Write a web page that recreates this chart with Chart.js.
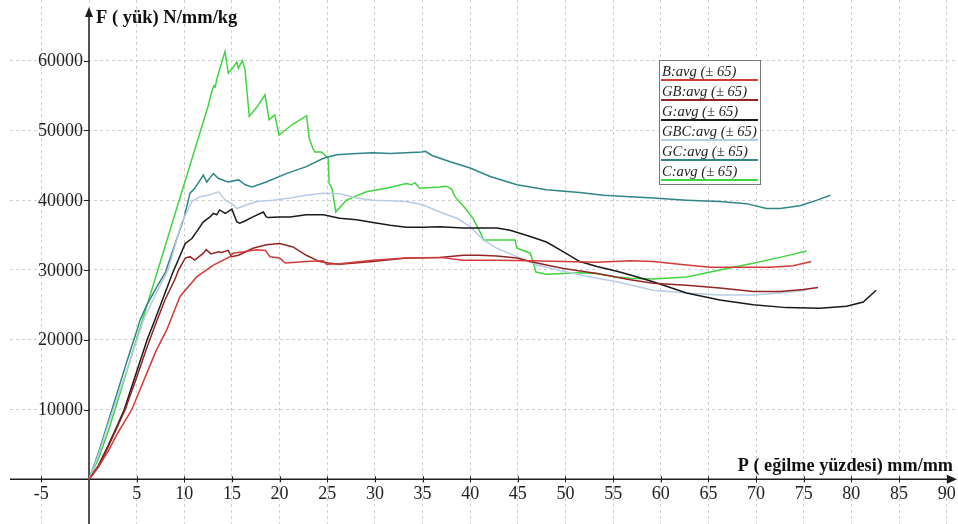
<!DOCTYPE html>
<html>
<head>
<meta charset="utf-8">
<script src="https://cdn.jsdelivr.net/npm/chart.js@4.4.0/dist/chart.umd.min.js"></script>
<style>
  html, body { margin: 0; padding: 0; background: #fff; }
</style>
</head>
<body>
<canvas id="chart" width="958" height="524"></canvas>
<script>
// axis ticks
const xTicks = [-5, 0, 5, 10, 15, 20, 25, 30, 35, 40, 45, 50, 55, 60, 65, 70, 75, 80, 85, 90];
const yTicks = [10000, 20000, 30000, 40000, 50000, 60000];

const xTitle = "P ( eğilme yüzdesi) mm/mm";
const yTitle = "F ( yük) N/mm/kg";

const seriesNames = ["B:avg (± 65)", "GB:avg (± 65)", "G:avg (± 65)", "GBC:avg (± 65)", "GC:avg (± 65)", "C:avg (± 65)"];
const seriesColors = ["#d43a3a", "#952525", "#1a1a1a", "#b7cde6", "#2f8587", "#3ed63e"];

// B
const bX = [0, 1, 2, 3, 4.5, 6, 7, 8.15, 9.55, 11.3, 13.05, 14.8, 15.1, 16.2, 17.6, 18.5, 19.0, 20.0, 20.6, 22.8, 24.6, 24.9, 26.3, 29.8, 33.3, 36.8, 39.3, 42.8, 46.3, 49.8, 53.3, 56.8, 59.2, 62.7, 65.2, 68.0, 71.5, 73.9, 75.8];
const bY = [0, 1800, 4000, 6600, 10000, 15000, 18300, 21400, 26200, 29000, 30700, 31900, 32400, 32600, 32900, 32800, 31900, 31700, 31000, 31200, 31300, 30800, 30900, 31400, 31700, 31800, 31400, 31400, 31300, 31200, 31100, 31300, 31200, 30700, 30400, 30400, 30400, 30600, 31200];

// GB
const gbX = [0, 1, 2, 3, 3.8, 5, 6, 7, 8, 9, 9.4, 10.1, 10.6, 11.1, 12.0, 12.3, 12.8, 13.6, 13.9, 14.6, 14.95, 15.7, 17.2, 18.6, 20.0, 21.4, 22.8, 24.2, 25.1, 26.3, 29.8, 33.3, 36.8, 39.3, 41.0, 42.8, 44.9, 46.3, 48.0, 49.8, 53.3, 56.8, 59.2, 62.7, 66.2, 69.7, 72.5, 75.0, 76.5];
const gbY = [0, 1800, 4600, 7600, 10000, 14600, 18600, 22300, 25800, 28600, 30000, 31700, 31900, 31400, 32400, 32900, 32300, 32600, 32500, 32800, 31900, 32100, 33100, 33600, 33800, 33300, 32100, 31200, 31000, 30800, 31200, 31700, 31800, 32100, 32100, 32000, 31700, 31200, 30700, 30200, 29500, 28600, 28100, 27800, 27400, 26900, 26900, 27200, 27500];

// G
const gX = [0, 1, 2, 3, 3.7, 5, 6.1, 6.9, 8.7, 10.1, 10.8, 11.3, 12.0, 12.7, 13.05, 13.4, 13.7, 14.3, 15.0, 15.5, 15.8, 16.2, 17.2, 18.3, 18.6, 18.8, 20.0, 21.1, 22.8, 24.6, 26.3, 28.1, 29.8, 31.6, 33.3, 35.1, 36.8, 39.3, 42.8, 44.2, 46.3, 48.0, 49.8, 51.5, 53.3, 55.4, 57.0, 59.2, 62.7, 66.2, 69.7, 73.2, 76.7, 79.5, 81.25, 82.6];
const gY = [0, 2000, 4800, 7800, 10000, 15400, 20000, 22800, 29300, 33800, 34500, 35500, 36900, 37600, 38100, 37900, 38600, 38100, 38700, 36900, 36700, 36900, 37600, 38300, 37600, 37500, 37600, 37600, 37900, 37900, 37400, 37200, 36800, 36400, 36100, 36100, 36200, 36000, 36000, 35700, 34800, 34000, 32600, 31200, 30500, 29800, 29200, 28300, 26700, 25700, 25000, 24600, 24500, 24800, 25400, 27100];

// GBC
const gbcX = [0, 1, 2, 3, 4, 5, 5.7, 7, 8.3, 9.7, 10.8, 11.65, 12.5, 13.6, 14.3, 15.0, 15.5, 16.5, 17.6, 19.3, 21.1, 22.8, 24.6, 26.3, 28.1, 29.8, 31.6, 33.3, 35.1, 36.8, 38.6, 40.0, 41.4, 42.8, 44.9, 47.0, 49.8, 52.6, 55.4, 59.2, 62.7, 66.2, 69.7, 72.5, 75.3];
const gbcY = [0, 3500, 7800, 11800, 15800, 19800, 22800, 26500, 30000, 36700, 39800, 40500, 40700, 41200, 40000, 39500, 38800, 39300, 39800, 40000, 40300, 40700, 41000, 40900, 40300, 40000, 39900, 39800, 39300, 38300, 37400, 36200, 34300, 33100, 31900, 30700, 29800, 29000, 28300, 27100, 26700, 26400, 26400, 26700, 27100];

// GC
const gcX = [0, 1, 2, 3, 4, 5, 5.35, 6, 7, 8, 9, 10, 10.6, 11.1, 12.0, 12.35, 13.05, 13.6, 14.6, 15.7, 16.4, 17.1, 18.6, 20.7, 22.8, 24.6, 26.0, 28.1, 29.8, 31.6, 33.3, 34.9, 35.3, 36.0, 37.9, 40.0, 42.1, 44.9, 48.0, 51.5, 54.0, 56.8, 59.2, 62.7, 66.2, 69.0, 71.1, 72.5, 74.6, 76.4, 77.8];
const gcY = [0, 3800, 8200, 12600, 17000, 21200, 22800, 24800, 27300, 29600, 33600, 37600, 41000, 41700, 43600, 42600, 43800, 43100, 42600, 42900, 42200, 41900, 42600, 43800, 44800, 46000, 46500, 46700, 46800, 46700, 46800, 46900, 47000, 46400, 45500, 44600, 43400, 42200, 41500, 41100, 40700, 40500, 40300, 40000, 39800, 39500, 38800, 38800, 39200, 40000, 40700];

// C
const cX = [0, 1, 2, 2.73, 5, 7, 9, 11, 12.5, 12.9, 13.1, 13.25, 13.4, 14.27, 14.62, 15.1, 15.5, 15.67, 16.09, 16.37, 16.82, 17.6, 18.47, 18.9, 19.5, 19.94, 21.3, 22.84, 23.1, 23.5, 23.7, 24.4, 25.1, 25.2, 25.5, 25.9, 27.0, 29.1, 31.2, 33.3, 33.85, 34.2, 34.7, 36.8, 37.5, 38.05, 38.4, 39.5, 40.3, 41.2, 41.4, 42.6, 44.7, 44.9, 46.3, 46.6, 46.9, 48.0, 49.8, 51.5, 53.3, 55.4, 56.8, 59.2, 62.7, 66.2, 69.7, 72.5, 75.3];
const cY = [0, 3000, 6800, 10000, 20100, 29000, 37900, 46800, 53500, 55600, 56400, 56200, 57300, 61300, 58200, 59000, 59800, 58900, 60000, 58700, 52000, 53300, 55100, 51500, 52200, 49300, 50800, 52100, 48900, 47400, 46900, 46900, 46000, 42400, 41700, 38300, 40000, 41200, 41700, 42400, 42200, 42500, 41700, 41900, 42000, 41600, 40500, 38800, 37400, 35000, 34300, 34300, 34300, 33100, 32400, 31200, 29700, 29400, 29500, 29600, 29500, 29000, 28800, 28700, 29000, 30000, 30950, 31800, 32700];

const seriesX = [bX, gbX, gX, gbcX, gcX, cX];
const seriesY = [bY, gbY, gY, gbcY, gcY, cY];

const serif = "'Liberation Serif', 'Times New Roman', serif";

const axesPlugin = {
  id: "axes",
  beforeDatasetsDraw(chart) {
    const ctx = chart.ctx;
    const xs = chart.scales.x;
    const ys = chart.scales.y;
    const x0 = xs.getPixelForValue(0);
    const y0 = ys.getPixelForValue(0);
    ctx.save();
    ctx.strokeStyle = "#1e1e1e";
    ctx.fillStyle = "#1e1e1e";
    ctx.lineWidth = 1.5;
    ctx.beginPath();
    ctx.moveTo(x0, chart.height);
    ctx.lineTo(x0, 14);
    ctx.moveTo(xs.left, y0);
    ctx.lineTo(chart.width - 6, y0);
    ctx.stroke();

    // arrow heads
    ctx.beginPath();
    ctx.moveTo(x0, 7);
    ctx.lineTo(x0 - 4, 17);
    ctx.lineTo(x0 + 4, 17);
    ctx.closePath();
    ctx.fill();
    ctx.beginPath();
    ctx.moveTo(chart.width - 1, y0);
    ctx.lineTo(chart.width - 11, y0 - 4.5);
    ctx.lineTo(chart.width - 11, y0 + 4.5);
    ctx.closePath();
    ctx.fill();

    ctx.lineWidth = 1;
    ctx.beginPath();
    xTicks.forEach(v => {
      if (v === 0) return;
      const px = Math.round(xs.getPixelForValue(v)) + 0.5;
      ctx.moveTo(px, y0 - 3);
      ctx.lineTo(px, y0 + 3);
    });
    yTicks.forEach(v => {
      const py = Math.round(ys.getPixelForValue(v)) + 0.5;
      ctx.moveTo(x0 - 5, py);
      ctx.lineTo(x0, py);
    });
    ctx.stroke();
    ctx.restore();
  },
  afterDatasetsDraw(chart) {
    const ctx = chart.ctx;
    const xs = chart.scales.x;
    const ys = chart.scales.y;
    const x0 = xs.getPixelForValue(0);
    const y0 = ys.getPixelForValue(0);
    ctx.save();
    ctx.fillStyle = "#222";
    ctx.font = "18px " + serif;

    // tick labels
    ctx.textAlign = "right";
    ctx.textBaseline = "middle";
    yTicks.forEach(v => {
      ctx.fillText(String(v), x0 - 6, ys.getPixelForValue(v) + 1);
    });
    ctx.textAlign = "center";
    xTicks.forEach(v => {
      if (v === 0) return;
      ctx.fillText(String(v), xs.getPixelForValue(v), y0 + 15);
    });

    // axis titles
    ctx.fillStyle = "#111";
    ctx.textBaseline = "alphabetic";
    ctx.textAlign = "left";
    ctx.font = "bold 18.5px " + serif;
    ctx.fillText(yTitle, x0 + 7, 23);
    ctx.textAlign = "right";
    ctx.font = "bold 18.2px " + serif;
    ctx.fillText(xTitle, chart.width - 5, y0 - 8);

    // legend box
    const lx = 659.5, ly = 60.5, lw = 101, lh = 124;
    ctx.fillStyle = "#fff";
    ctx.fillRect(lx, ly, lw, lh);
    ctx.strokeStyle = "#777";
    ctx.lineWidth = 1;
    ctx.strokeRect(lx, ly, lw, lh);
    ctx.font = "italic 14.6px " + serif;
    ctx.textAlign = "left";
    seriesNames.forEach((name, i) => {
      const base = 76 + i * 20;
      ctx.fillStyle = "#222";
      ctx.fillText(name, 662, base);
      ctx.strokeStyle = seriesColors[i];
      ctx.lineWidth = 2;
      ctx.beginPath();
      ctx.moveTo(661, base + 4);
      ctx.lineTo(758, base + 4);
      ctx.stroke();
    });
    ctx.restore();
  }
};

new Chart(document.getElementById("chart").getContext("2d"), {
  type: "line",
  data: {
    datasets: seriesNames.map((name, i) => ({
      label: name,
      data: seriesX[i].map((x, j) => ({ x: x, y: seriesY[i][j] })),
      borderColor: seriesColors[i],
      borderWidth: 1.5,
      pointRadius: 0,
      tension: 0,
      fill: false
    }))
  },
  options: {
    responsive: false,
    animation: false,
    layout: { padding: { left: 10, right: 0, top: 0, bottom: 0 } },
    plugins: {
      legend: { display: false },
      tooltip: { enabled: false }
    },
    scales: {
      x: {
        type: "linear",
        min: -8.29,
        max: 91.19,
        afterBuildTicks: (axis) => { axis.ticks = xTicks.map(v => ({ value: v })); },
        ticks: { display: false },
        grid: { color: "#cfcfcf", lineWidth: 1, drawTicks: false },
        border: { display: false, dash: [3, 3] }
      },
      y: {
        type: "linear",
        min: -6405,
        max: 68680,
        afterBuildTicks: (axis) => { axis.ticks = yTicks.map(v => ({ value: v })); },
        ticks: { display: false },
        grid: { color: "#cfcfcf", lineWidth: 1, drawTicks: false },
        border: { display: false, dash: [3, 3] }
      }
    }
  },
  plugins: [axesPlugin]
});
</script>
</body>
</html>
